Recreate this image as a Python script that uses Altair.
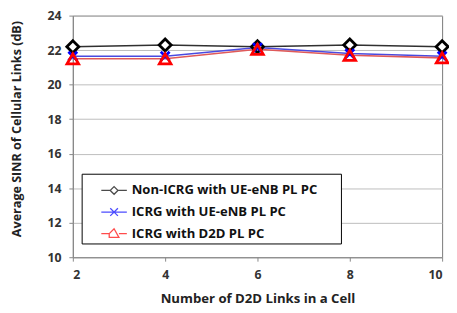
import altair as alt
import pandas as pd

x_vals = [2, 4, 6, 8, 10]
non_icrg = [22.2, 22.3, 22.2, 22.3, 22.2]
icrg_ue = [21.65, 21.65, 22.15, 21.8, 21.65]
icrg_d2d = [21.5, 21.5, 22.05, 21.7, 21.55]
series_names = ["Non-ICRG with UE-eNB PL PC", "ICRG with UE-eNB PL PC", "ICRG with D2D PL PC"]
marker_colors = ["#000000", "#0000ff", "#ff0000"]
line_colors = ["#303030", "#4a4ae0", "#e05a5a"]
x_ticks = [2, 4, 6, 8, 10]
y_ticks = [10, 12, 14, 16, 18, 20, 22, 24]

FONT = "Open Sans"
X_PATH = "M-1,-1L1,1M1,-1L-1,1"
marker_shapes = ["diamond", X_PATH, "triangle-up"]
marker_sizes = [150, 80, 140]
legend_paths = [
    "M-1,0H-0.3L0,-0.3L0.3,0H1M0.3,0L0,0.3L-0.3,0",
    "M-1,0H1M-0.3,-0.3L0.3,0.3M0.3,-0.3L-0.3,0.3",
    "M-1,0H-0.38L0,-0.38L0.38,0.3L-0.38,0.3L-0.38,0M0.38,0H1",
]

values = [non_icrg, icrg_ue, icrg_d2d]
rows = []
for name, vals in zip(series_names, values):
    for x, v in zip(x_vals, vals):
        rows.append({"x": x, "y": v, "series": name})
df = pd.DataFrame(rows)

x_enc = alt.X("x:Q", scale=alt.Scale(domain=[2, 10], nice=False),
              axis=alt.Axis(values=x_ticks, title="Number of D2D Links in a Cell",
                            grid=False, titleY=42, titleBaseline="middle", titleFontSize=13.4))
y_enc = alt.Y("y:Q", scale=alt.Scale(domain=[10, 24], nice=False),
              axis=alt.Axis(values=y_ticks, title="Average SINR of Cellular Links (dB)",
                            grid=True, titleX=-57, titleY=115, titleAngle=270,
                            titleBaseline="middle", titleAlign="center", titleFontSize=12.8))

layers = []
for i, name in enumerate(series_names):
    sub = alt.Chart(df).transform_filter(alt.datum.series == name)
    layers.append(sub.mark_line(color=line_colors[i], strokeWidth=1.6).encode(x=x_enc, y=y_enc))
for i, name in enumerate(series_names):
    sub = alt.Chart(df).transform_filter(alt.datum.series == name)
    kw = dict(shape=marker_shapes[i], size=marker_sizes[i], stroke=marker_colors[i],
              strokeWidth=2.8, opacity=1)
    if i == 0:
        kw["fill"] = "#ffffff"
        kw["filled"] = True
    else:
        kw["filled"] = False
    layers.append(sub.mark_point(**kw).encode(x=x_enc, y=y_enc))

leg = alt.Legend(
    orient="none", legendX=9, legendY=161, title="..", titleOrient="right",
    titlePadding=14, titleFontSize=12, titleColor="#ffffff",
    strokeColor="#000000", fillColor="#ffffff", padding=3, cornerRadius=0,
    symbolSize=676, symbolStrokeWidth=1.3, symbolOffset=16, labelOffset=4,
    rowPadding=1, labelFont=FONT, labelFontSize=13.3, labelFontWeight="bold",
    labelColor="#111111", labelLimit=400,
)
legend_layer = alt.Chart(df).transform_filter("false").mark_point(filled=False).encode(
    x=x_enc, y=y_enc,
    shape=alt.Shape("series:N", scale=alt.Scale(domain=series_names, range=legend_paths), legend=leg),
    color=alt.Color("series:N", scale=alt.Scale(domain=series_names, range=marker_colors), legend=leg),
)
layers.append(legend_layer)

chart = alt.layer(*layers).properties(
    width=376, height=246,
    autosize=alt.AutoSizeParams(type="none"),
    padding={"left": 66, "top": 5, "right": 7, "bottom": 52},
).configure_view(stroke="#777777", strokeWidth=1).configure_axis(
    labelFont=FONT, labelFontSize=12.5, labelFontWeight="bold", labelColor="#333333",
    titleFont=FONT, titleFontWeight="bold", titleColor="#222222",
    domainColor="#888888", tickColor="#888888", tickSize=4, labelPadding=8,
    gridColor="#bdbdbd", gridWidth=1,
)

chart.save("out.html", embed_options={"renderer": "svg", "actions": False})
